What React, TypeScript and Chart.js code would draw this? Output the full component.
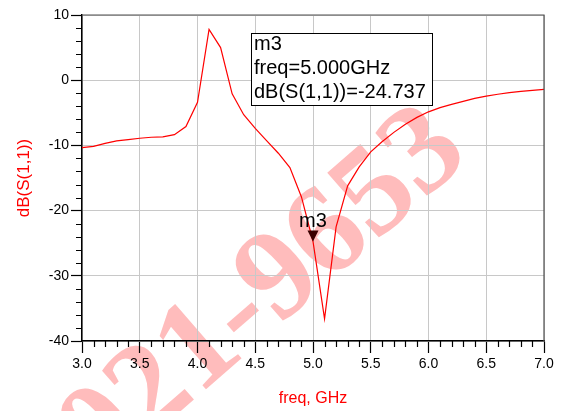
import React, { useEffect, useRef } from "react";
import { Chart, registerables } from "chart.js";

Chart.register(...registerables);

// ---- data ----
const freqGHz = [
  3.0, 3.1, 3.2, 3.3, 3.4, 3.5, 3.6, 3.7, 3.8, 3.9,
  4.0, 4.1, 4.2, 4.3, 4.4, 4.5, 4.6, 4.7, 4.8, 4.9,
  5.0, 5.1, 5.2, 5.3, 5.4, 5.5, 5.6, 5.7, 5.8, 5.9,
  6.0, 6.1, 6.2, 6.3, 6.4, 6.5, 6.6, 6.7, 6.8, 6.9, 7.0,
];
const dbS11 = [
  -10.35, -10.15, -9.7, -9.3, -9.1, -8.9, -8.75, -8.7, -8.35, -7.1,
  -3.4, 7.8, 5.0, -2.1, -5.3, -7.4, -9.3, -11.2, -13.4, -17.9,
  -24.737, -36.6, -22.5, -16.2, -13.3, -11.0, -9.4, -8.0, -6.75, -5.7,
  -4.85, -4.2, -3.7, -3.25, -2.8, -2.45, -2.15, -1.9, -1.7, -1.55, -1.4,
];
const markerName = "m3";
const markerFreq = 5.0;
const markerValue = -24.737;
const markerLines = [
  "m3",
  "freq=5.000GHz",
  "dB(S(1,1))=-24.737",
];
const xTitle = "freq, GHz";
const yTitle = "dB(S(1,1))";
const watermarkText = "021-9653";

const FONT = "'Liberation Sans', Arial, Helvetica, sans-serif";

const decorPlugin = {
  id: "decor",
  beforeDraw(chart: any) {
    const { ctx } = chart;
    ctx.save();
    ctx.translate(265, 294);
    ctx.rotate((-41 * Math.PI) / 180);
    ctx.font = "bold 128px 'Liberation Serif', 'Times New Roman', serif";
    ctx.fillStyle = "#ffbcbc";
    ctx.textAlign = "center";
    ctx.textBaseline = "middle";
    ctx.fillText(watermarkText, 0, 0);
    ctx.restore();
  },
  afterDatasetsDraw(chart: any) {
    const { ctx, chartArea: a, scales } = chart;
    const xs = scales.x;
    const ys = scales.y;
    ctx.save();
    // top / right frame
    ctx.strokeStyle = "#505050";
    ctx.lineWidth = 1.2;
    ctx.beginPath();
    ctx.moveTo(a.left, a.top);
    ctx.lineTo(a.right, a.top);
    ctx.lineTo(a.right, a.bottom);
    ctx.stroke();
    // minor ticks
    ctx.strokeStyle = "#000";
    ctx.lineWidth = 1.2;
    ctx.beginPath();
    for (let i = 30; i <= 70; i++) {
      if (i % 5 === 0) continue;
      const px = Math.round(xs.getPixelForValue(i / 10)) + 0.5;
      ctx.moveTo(px, a.bottom);
      ctx.lineTo(px, a.bottom + 6);
    }
    for (let v = -40; v <= 10; v += 2) {
      if (v % 10 === 0) continue;
      const py = Math.round(ys.getPixelForValue(v)) + 0.5;
      ctx.moveTo(a.left - 6, py);
      ctx.lineTo(a.left, py);
    }
    ctx.stroke();

    // marker
    const mx = xs.getPixelForValue(markerFreq);
    const my = ys.getPixelForValue(markerValue);
    ctx.fillStyle = "#3a0000";
    ctx.beginPath();
    ctx.moveTo(mx, my);
    ctx.lineTo(mx - 5.5, my - 11);
    ctx.lineTo(mx + 5.5, my - 11);
    ctx.closePath();
    ctx.fill();
    ctx.fillStyle = "#000";
    ctx.font = `20px ${FONT}`;
    ctx.textAlign = "center";
    ctx.textBaseline = "alphabetic";
    ctx.fillText(markerName, mx, my - 14.5);

    // annotation box
    const bx = 251, by = 33, bw = 181, bh = 72;
    ctx.fillStyle = "#fff";
    ctx.fillRect(bx, by, bw, bh);
    ctx.strokeStyle = "#000";
    ctx.lineWidth = 1;
    ctx.strokeRect(bx + 0.5, by + 0.5, bw, bh);
    ctx.fillStyle = "#000";
    ctx.textAlign = "left";
    ctx.textBaseline = "middle";
    markerLines.forEach((t, i) => ctx.fillText(t, 254, 44 + i * 24));
    ctx.restore();
  },
};

export default function App() {
  const ref = useRef<HTMLCanvasElement | null>(null);
  useEffect(() => {
    document.body.style.margin = "0";
    const canvas = ref.current;
    if (!canvas) return;
    const chart = new Chart(canvas, {
      type: "line",
      data: {
        datasets: [
          {
            data: freqGHz.map((f, i) => ({ x: f, y: dbS11[i] })),
            borderColor: "#ff0000",
            borderWidth: 1.2,
            pointRadius: 0,
            tension: 0,
            fill: false,
          },
        ],
      },
      plugins: [decorPlugin],
      options: {
        animation: false,
        responsive: false,
        layout: { padding: { left: 0, right: 17, top: 15, bottom: 0 } },
        plugins: {
          legend: { display: false },
          tooltip: { enabled: false },
        },
        scales: {
          x: {
            type: "linear",
            min: 3,
            max: 7,
            afterFit: (s: any) => {
              s.height = 70;
            },
            ticks: {
              stepSize: 0.5,
              color: "#000",
              font: { family: FONT, size: 14 },
              padding: 3,
              maxRotation: 0,
              callback: (v: any) => Number(v).toFixed(1),
            },
            grid: {
              color: "#c8c8c8",
              lineWidth: 1,
              tickColor: "#000",
              tickLength: 12,
              tickWidth: 1.2,
            },
            border: { color: "#000", width: 1.5 },
            title: {
              display: true,
              text: xTitle,
              color: "#ff0000",
              font: { family: FONT, size: 16 },
              padding: { top: 0, bottom: 3 },
            },
          },
          y: {
            type: "linear",
            min: -40,
            max: 10,
            afterFit: (s: any) => {
              s.width = 82;
            },
            ticks: {
              stepSize: 10,
              color: "#000",
              font: { family: FONT, size: 14 },
              padding: 2,
            },
            grid: {
              color: "#c8c8c8",
              lineWidth: 1,
              tickColor: "#000",
              tickLength: 11,
              tickWidth: 1.2,
            },
            border: { color: "#000", width: 1.5 },
            title: {
              display: true,
              text: yTitle,
              color: "#ff0000",
              font: { family: FONT, size: 17 },
              padding: { top: 14, bottom: 0 },
            },
          },
        },
      },
    });
    return () => chart.destroy();
  }, []);
  return (
    <div style={{ width: 561, height: 411 }}>
      <canvas ref={ref} width={561} height={411} />
    </div>
  );
}
